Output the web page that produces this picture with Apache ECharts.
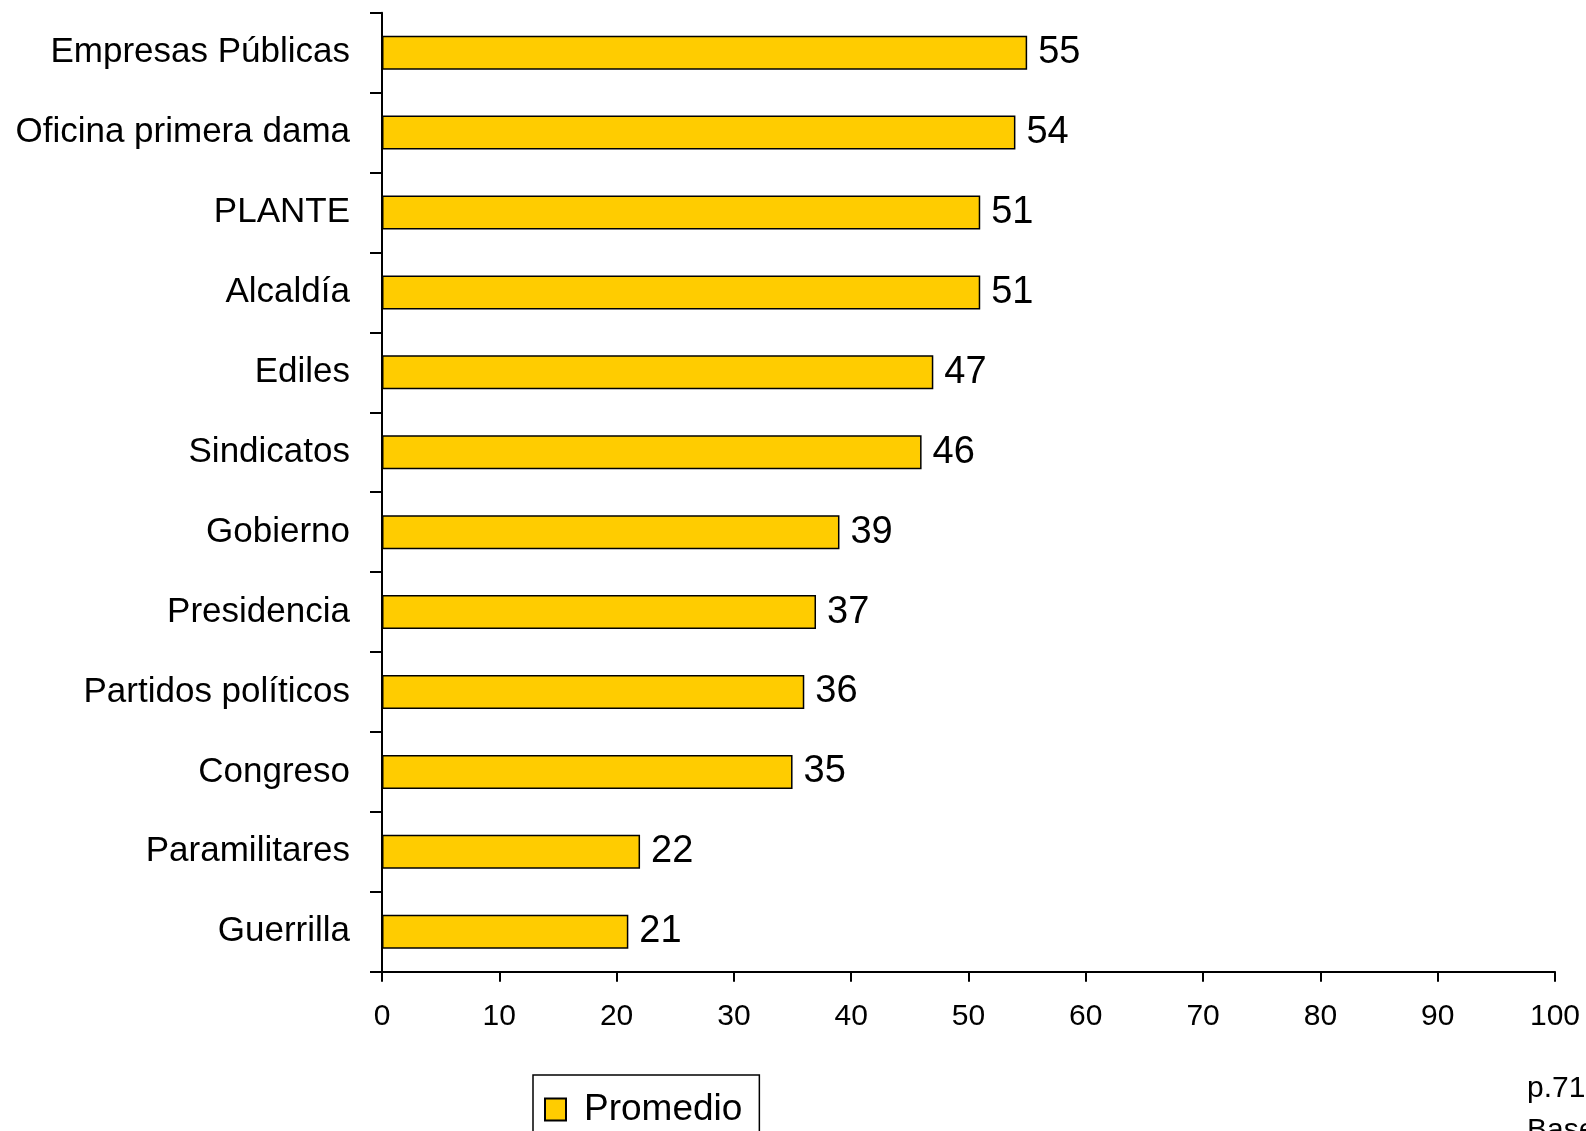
<!DOCTYPE html>
<html>
<head>
<meta charset="utf-8">
<script src="https://cdn.jsdelivr.net/npm/echarts@6/dist/echarts.min.js"></script>
<style>html,body{margin:0;padding:0;background:#fff;}#c{width:1586px;height:1131px;}</style>
</head>
<body>
<div id="c"></div>
<script>
const categories = ["Empresas Públicas","Oficina primera dama","PLANTE","Alcaldía","Ediles","Sindicatos","Gobierno","Presidencia","Partidos políticos","Congreso","Paramilitares","Guerrilla"];
const promedio = [55,54,51,51,47,46,39,37,36,35,22,21];
const xTicks = [0,10,20,30,40,50,60,70,80,90,100];
const seriesName = "Promedio";
const noteLines = ["p.71","Base"];

const REG = "'Liberation Sans',Arial,sans-serif";

const chart = echarts.init(document.getElementById('c'), null, {renderer:'canvas'});
chart.setOption({
  backgroundColor:'#ffffff',
  animation:false,
  grid:{left:382, right:31, top:12.7, bottom:159.3, containLabel:false, outerBoundsMode:'none'},
  xAxis:{
    type:'value', min:xTicks[0], max:xTicks[xTicks.length-1], interval:10,
    axisLine:{show:true, lineStyle:{color:'#000', width:2}},
    axisTick:{show:true, length:10, lineStyle:{color:'#000', width:2}},
    splitLine:{show:false},
    axisLabel:{color:'#000', fontFamily:REG, fontSize:30, margin:30}
  },
  yAxis:{
    type:'category', inverse:true, data:categories,
    axisLine:{show:true, lineStyle:{color:'#000', width:2}},
    axisTick:{show:true, length:12, lineStyle:{color:'#000', width:2}},
    axisLabel:{color:'#000', fontFamily:REG, fontSize:35, margin:32, padding:[10,0,0,0]}
  },
  legend:{
    show:true, left:533, top:1075, orient:'horizontal',
    backgroundColor:'#fff', borderColor:'#000', borderWidth:1.5,
    padding:[16,17,30,11],
    itemWidth:21, itemHeight:22,
    icon:'rect',
    textStyle:{color:'#000', fontFamily:REG, fontSize:37, padding:[0,0,0,13]},
    data:[seriesName]
  },
  series:[{
    name:seriesName, type:'bar', data:promedio, barWidth:34,
    itemStyle:{color:'#FFCC00', borderColor:'#000', borderWidth:1.5},
    label:{show:true, position:'right', distance:11, color:'#000', fontFamily:REG, fontSize:38, padding:[10,0,0,0]}
  }],
  graphic:[
    {type:'text', left:1527, top:1074, style:{text:noteLines[0], font:"30px 'Liberation Sans',Arial,sans-serif", fill:'#000'}},
    {type:'text', left:1527, top:1116, style:{text:noteLines[1], font:"30px 'Liberation Sans',Arial,sans-serif", fill:'#000'}}
  ]
});
</script>
</body>
</html>
